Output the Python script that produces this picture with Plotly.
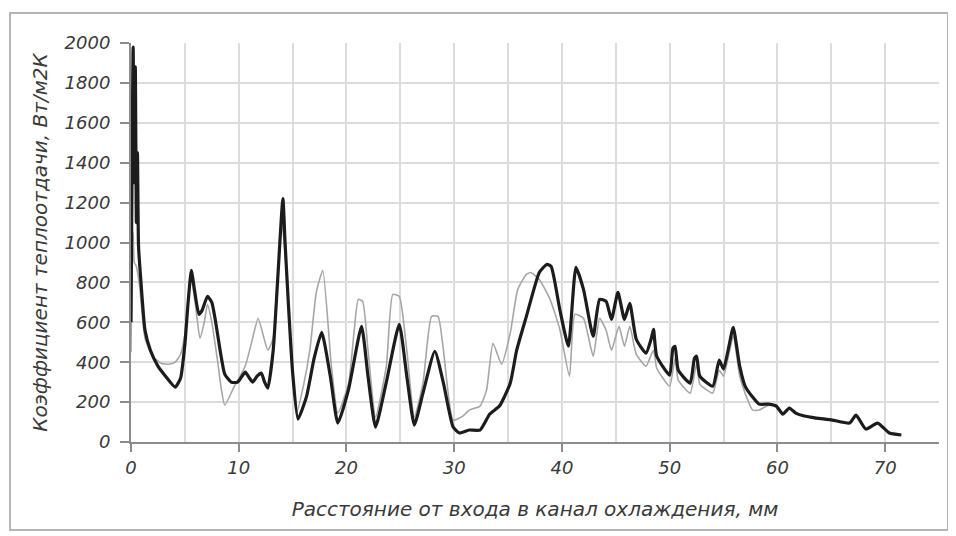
import plotly.graph_objects as go

# Distance from channel inlet, mm / heat transfer coefficient, W/m2K
x_black = [0.0, 0.1, 0.2, 0.3, 0.4, 0.5, 0.6, 0.7, 0.9, 1.3, 1.8, 2.5, 3.2, 4.1, 4.6, 5.0, 5.3, 5.6,
           5.9, 6.3, 6.6, 7.1, 7.5, 7.8, 8.3, 8.7, 9.3, 9.9, 10.6, 11.0, 11.3, 11.7, 12.1, 12.4, 12.7,
           13.2, 13.6, 14.1, 14.3, 14.6, 15.0, 15.5, 16.3, 17.0, 17.7, 18.5, 19.2, 20.2, 21.4, 22.0,
           22.7, 23.7, 24.9, 25.6, 26.3, 27.1, 28.2, 29.0, 29.9, 30.5, 31.4, 32.4, 33.3, 34.2, 35.2,
           35.8, 36.7, 37.9, 38.6, 39.0, 39.8, 40.6, 41.3, 42.0, 42.9, 43.5, 44.1, 44.6, 45.2, 45.8,
           46.3, 46.9, 47.8, 48.3, 48.5, 48.8, 50.0, 50.3, 50.5, 50.8, 51.9, 52.3, 52.5, 52.8, 54.0,
           54.6, 55.0, 55.5, 55.9, 56.5, 57.0, 57.7, 58.3, 59.2, 59.9, 60.5, 61.1, 61.7, 62.5, 63.6,
           65.1, 66.7, 67.3, 68.2, 69.3, 70.4, 71.5]
y_black = [600, 1400, 1980, 1300, 1880, 1100, 1450, 980, 820, 560, 460, 380, 330, 275, 320, 490, 700, 860,
           760, 640, 660, 730, 700, 620, 450, 340, 300, 300, 350, 320, 300, 330, 345, 300, 270,
           460, 800, 1220, 1000, 700, 350, 115, 230, 420, 550, 330, 95, 265, 580, 330,
           75, 300, 590, 330, 85, 245, 455, 295, 75, 45, 60, 60, 140, 180, 295,
           460, 630, 850, 890, 880, 665, 480, 875, 765, 530, 715, 705, 615, 750, 615,
           695, 515, 445, 520, 565, 430, 335, 470, 480, 360, 295, 420, 430, 330, 280,
           410, 365, 480, 575, 380, 280, 225, 190, 190, 180, 140, 170, 145, 130, 120,
           110, 95, 135, 65, 95, 45, 35]

x_gray = [0.0, 0.1, 0.2, 0.3, 0.5, 0.8, 1.3, 2.0, 2.8, 3.5, 4.1, 4.6, 5.0, 5.3, 5.6, 6.0, 6.4, 6.8,
          7.1, 7.5, 8.0, 8.4, 8.7, 9.6, 10.6, 11.2, 11.8, 12.3, 12.7, 13.2, 13.7, 14.0, 14.3, 14.6,
          15.0, 15.4, 16.0, 16.6, 17.2, 17.8, 18.6, 19.2, 20.2, 20.7, 21.1, 21.5, 22.0, 22.7, 23.7,
          24.3, 24.9, 25.6, 26.3, 27.1, 27.9, 28.5, 29.0, 29.9, 30.8, 31.4, 32.4, 33.0, 33.6, 34.4,
          35.2, 35.9, 36.7, 37.1, 37.9, 38.9, 39.8, 40.7, 41.2, 42.0, 42.9, 43.5, 44.1, 44.6, 45.3,
          45.8, 46.3, 46.9, 47.8, 48.5, 48.8, 50.0, 50.5, 50.8, 51.9, 52.5, 52.8, 54.0, 54.6, 55.0,
          55.9, 56.5, 57.0, 57.7, 58.3, 59.2, 59.9, 60.5, 61.1, 61.7, 62.5, 63.6, 65.1, 66.7, 67.3,
          68.2, 69.3, 70.4, 71.5]
y_gray = [450, 950, 1050, 900, 880, 780, 520, 430, 395, 390, 400, 440, 540, 700, 820, 680, 520, 600,
          690, 600, 420, 260, 185, 280, 380, 500, 620, 530, 460, 520, 900, 1100, 950, 680,
          350, 150, 280, 460, 750, 860, 380, 145, 295, 550, 715, 705, 460, 125, 380,
          740, 730, 460, 125, 295, 630, 630, 460, 110, 130, 160, 180, 260, 495, 390,
          545, 765, 840, 850, 815, 715, 565, 330, 640, 620, 430, 620, 560, 460, 580,
          480, 580, 440, 380, 460, 370, 280, 420, 310, 245, 395, 290, 245, 360, 330,
          530, 330, 245, 160, 160, 185, 178, 140, 170, 145, 130, 118, 108, 95, 130,
          62, 92, 45, 35]

x_ticks = [0, 10, 20, 30, 40, 50, 60, 70]
y_ticks = [0, 200, 400, 600, 800, 1000, 1200, 1400, 1600, 1800, 2000]

x_title = "Расстояние от входа в канал охлаждения, мм"
y_title = "Коэффициент теплоотдачи, Вт/м2К"

font_family = "DejaVu Sans"
text_color = "#3a3a3a"

fig = go.Figure()
fig.add_trace(go.Scatter(x=x_gray, y=y_gray, mode="lines",
                         line=dict(color="#a6a6a6", width=1.6, shape="spline", smoothing=0.5),
                         showlegend=False))
fig.add_trace(go.Scatter(x=x_black, y=y_black, mode="lines",
                         line=dict(color="#1c1c1c", width=3.2, shape="spline", smoothing=0.5),
                         showlegend=False))

# page has an 8px body margin, so figure coords = page coords - 8
W, H = 944, 526
ml, mr, mt, mb = 123, 13, 35, 92
pw, ph = W - ml - mr, H - mt - mb

def px_to_paper_x(p):
    return (p - ml) / pw

def px_to_paper_y(p):
    return (H - mb - p) / ph

fig.add_shape(type="rect", xref="paper", yref="paper",
              x0=px_to_paper_x(2), x1=px_to_paper_x(940),
              y0=px_to_paper_y(522), y1=px_to_paper_y(5),
              line=dict(color="#b5b5b5", width=2), fillcolor="rgba(0,0,0,0)", layer="below")

fig.update_layout(
    width=W, height=H,
    margin=dict(l=ml, r=mr, t=mt, b=mb),
    paper_bgcolor="white", plot_bgcolor="white",
    font=dict(family=font_family, color=text_color, size=18, style="italic"),
)
fig.update_xaxes(
    range=[0, 75], tickvals=x_ticks, ticktext=[str(v) for v in x_ticks],
    showgrid=True, gridcolor="#dcdcdc", gridwidth=1.5,
    minor=dict(dtick=5, tick0=0, showgrid=True, gridcolor="#dcdcdc", gridwidth=1.5),
    showline=True, linecolor="#8c8c8c", linewidth=2,
    ticks="outside", ticklen=8, tickcolor="#8c8c8c", tickwidth=1.5,
    tickfont=dict(family=font_family, size=18, color=text_color, style="italic"),
    title=dict(text=x_title, standoff=25,
               font=dict(family=font_family, size=20, color=text_color, style="italic")),
    zeroline=False,
)
fig.update_yaxes(
    range=[0, 2000], tickvals=y_ticks, ticktext=[str(v) for v in y_ticks],
    showgrid=True, gridcolor="#dcdcdc", gridwidth=1.5,
    showline=True, linecolor="#8c8c8c", linewidth=2,
    ticks="outside", ticklen=9, tickcolor="#8c8c8c", tickwidth=1.5,
    ticklabelstandoff=6,
    tickfont=dict(family=font_family, size=18, color=text_color, style="italic"),
    title=dict(text=y_title, standoff=12,
               font=dict(family=font_family, size=20, color=text_color, style="italic")),
    zeroline=False,
)

fig.write_html("out.html")
